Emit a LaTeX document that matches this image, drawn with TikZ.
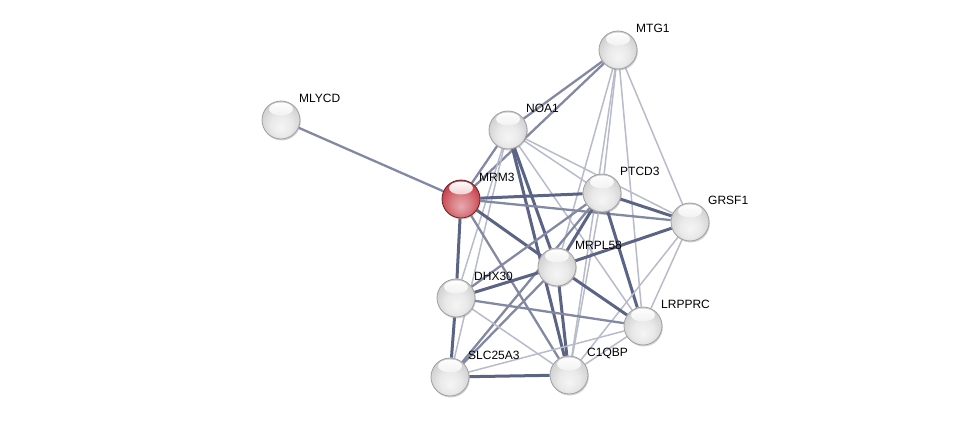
\documentclass[tikz,border=0pt]{standalone}
\usepackage{fontspec}
\setmainfont{Liberation Sans}
\usetikzlibrary{backgrounds,shadows}
\definecolor{edgec}{RGB}{78,86,122}
\definecolor{qred}{RGB}{200,66,76}
\pgfdeclareradialshading{greyball}{\pgfpoint{0bp}{-10bp}}{color(0bp)=(gray!8); color(14bp)=(gray!17); color(27bp)=(gray!36); color(35bp)=(gray!50); color(50bp)=(gray!50)}
\pgfdeclareradialshading{redball}{\pgfpoint{0bp}{-10bp}}{color(0bp)=(qred!45!white); color(14bp)=(qred!70!white); color(27bp)=(qred); color(35bp)=(qred!85!black); color(50bp)=(qred!85!black)}

\begin{document}
\begin{tikzpicture}[x=1pt,y=-1pt,
    prot/.style={circle,minimum size=38pt,inner sep=0pt,draw=gray!75,line width=0.8pt,shading=greyball,
      drop shadow={shadow xshift=0.8pt,shadow yshift=-1.5pt,opacity=0.35},
      path picture={\shade[top color=white,bottom color=gray!28]
        ([yshift=-8pt]path picture bounding box.north) ellipse (12pt and 6.5pt);}},
    query/.style={prot,draw=qred!50!black,shading=redball,
      path picture={\shade[top color=white,bottom color=qred!65!white]
        ([yshift=-8pt]path picture bounding box.north) ellipse (12pt and 6.5pt);}},
    lbl/.style={anchor=west,inner sep=0pt,font=\fontsize{12}{14}\selectfont},
    weak/.style={line width=1.5pt,draw=edgec!40},
    mid/.style={line width=2.3pt,draw=edgec!70},
    strong/.style={line width=3pt,draw=edgec!92}]
  \useasboundingbox (0,0) rectangle (976,423);

  \node[prot]  (mlycd)  at (281,120) {};
  \node[prot]  (mtg1)   at (618,50)  {};
  \node[prot]  (noa1)   at (508,130) {};
  \node[query] (mrm3)   at (461,199) {};
  \node[prot]  (ptcd3)  at (602,193) {};
  \node[prot]  (grsf1)  at (690,222) {};
  \node[prot]  (mrpl58) at (557,267) {};
  \node[prot]  (dhx30)  at (456,298) {};
  \node[prot]  (lrpprc) at (643,326) {};
  \node[prot]  (slc25a3) at (450,377) {};
  \node[prot]  (c1qbp)  at (569,375) {};

  \node[lbl] (mlycd-l)  at ([shift={(18,-22)}]mlycd)  {MLYCD};
  \node[lbl] (mtg1-l)   at ([shift={(18,-22)}]mtg1)   {MTG1};
  \node[lbl] (noa1-l)   at ([shift={(18,-22)}]noa1)   {NOA1};
  \node[lbl] (mrm3-l)   at ([shift={(18,-22)}]mrm3)   {MRM3};
  \node[lbl] (ptcd3-l)  at ([shift={(18,-22)}]ptcd3)  {PTCD3};
  \node[lbl] (grsf1-l)  at ([shift={(18,-22)}]grsf1)  {GRSF1};
  \node[lbl] (mrpl58-l) at ([shift={(18,-22)}]mrpl58) {MRPL58};
  \node[lbl] (dhx30-l)  at ([shift={(18,-22)}]dhx30)  {DHX30};
  \node[lbl] (lrpprc-l) at ([shift={(18,-22)}]lrpprc) {LRPPRC};
  \node[lbl] (slc25a3-l) at ([shift={(18,-22)}]slc25a3) {SLC25A3};
  \node[lbl] (c1qbp-l)  at ([shift={(18,-22)}]c1qbp)  {C1QBP};

  \begin{scope}[on background layer]
  \path
    (mlycd) edge[mid] (mrm3)
    (mtg1) edge[mid] (noa1)
           edge[mid] (mrm3)
           edge[weak] (ptcd3)
           edge[weak] (mrpl58)
           edge[weak] (c1qbp)
           edge[weak] (lrpprc)
           edge[weak] (grsf1)
    (noa1) edge[mid] (mrm3)
           edge[weak] (ptcd3)
           edge[weak] (grsf1)
           edge[strong] (mrpl58)
           edge[strong] (c1qbp)
           edge[weak] (dhx30)
           edge[weak] (slc25a3)
           edge[weak] (lrpprc)
    (mrm3) edge[strong] (ptcd3)
           edge[mid] (grsf1)
           edge[strong] (mrpl58)
           edge[mid] (c1qbp)
           edge[strong] (dhx30)
    (ptcd3) edge[strong] (grsf1)
            edge[strong] (mrpl58)
            edge[mid] (dhx30)
            edge[mid] (slc25a3)
            edge[weak] (c1qbp)
            edge[strong] (lrpprc)
    (grsf1) edge[strong] (mrpl58)
            edge[weak] (lrpprc)
            edge[weak] (c1qbp)
    (mrpl58) edge[strong] (dhx30)
             edge[mid] (slc25a3)
             edge[strong] (c1qbp)
             edge[strong] (lrpprc)
    (dhx30) edge[strong] (slc25a3)
            edge[mid] (lrpprc)
            edge[weak] (c1qbp)
    (slc25a3) edge[strong] (c1qbp)
              edge[weak] (lrpprc)
    (c1qbp) edge[weak] (lrpprc);
  \end{scope}
\end{tikzpicture}
\end{document}
